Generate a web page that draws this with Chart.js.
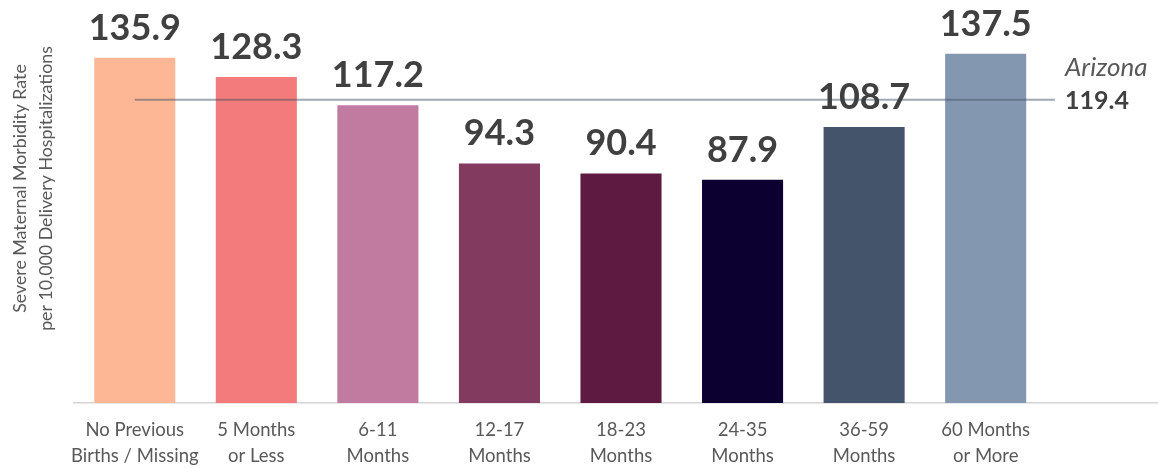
<!DOCTYPE html>
<html>
<head>
<meta charset="utf-8">
<script src="https://cdn.jsdelivr.net/npm/chart.js@4.4.0/dist/chart.umd.min.js"></script>
<style>
  html, body { margin: 0; padding: 0; background: #fff; overflow: hidden; }
  #wrap { width: 1168px; height: 468px; }
</style>
</head>
<body>
<div id="wrap"><canvas id="myChart"></canvas></div>
<script>
'use strict';
// categories (last slot left empty, like the original layout)
let categories = [
  ['No Previous', 'Births / Missing'],
  ['5 Months', 'or Less'],
  ['6-11', 'Months'],
  ['12-17', 'Months'],
  ['18-23', 'Months'],
  ['24-35', 'Months'],
  ['36-59', 'Months'],
  ['60 Months', 'or More'],
  ''
];
let rates = [135.9, 128.3, 117.2, 94.3, 90.4, 87.9, 108.7, 137.5, null];
let barColors = ['#FDB794', '#F47B7B', '#C27BA0', '#823A5F', '#5E1A40', '#0C0030', '#44546A', '#8497B0', '#ffffff'];
let arizonaRate = 119.4;
let arizonaSpan = [0, 7.57];
let yTitle = ['Severe Maternal Morbidity Rate', 'per 10,000 Delivery Hospitalizations'];

let fontFam = 'Lato, "Open Sans", sans-serif';

let labelsPlugin = {
  id: 'barLabels',
  afterDatasetsDraw(chart) {
    let ctx = chart.ctx;
    let meta = chart.getDatasetMeta(1);
    ctx.save();
    ctx.font = 'bold 36px ' + fontFam;
    ctx.fillStyle = '#404040';
    ctx.textAlign = 'center';
    ctx.textBaseline = 'alphabetic';
    meta.data.forEach(function (bar, i) {
      if (rates[i] === null) return;
      ctx.fillText(rates[i].toFixed(1), bar.x, bar.y - 18);
    });

    // Arizona reference label
    let x = chart.scales.x2.getPixelForValue(arizonaSpan[1]) + 10;
    let y = chart.scales.y.getPixelForValue(arizonaRate);
    ctx.textAlign = 'left';
    ctx.textBaseline = 'middle';
    ctx.fillStyle = '#595959';
    ctx.font = 'italic 26px ' + fontFam;
    ctx.fillText('Arizona', x, y - 32);
    ctx.fillStyle = '#404040';
    ctx.font = 'bold 25px ' + fontFam;
    ctx.fillText(arizonaRate.toFixed(1), x, y + 1);

    // y axis title, sitting a bit above the middle of the plot like the original
    let area = chart.chartArea;
    let cy = (area.top + area.bottom) / 2 - 24;
    ctx.translate(0, cy);
    ctx.rotate(-Math.PI / 2);
    ctx.textAlign = 'center';
    ctx.fillStyle = '#595959';
    ctx.font = '17.8px ' + fontFam;
    ctx.fillText(yTitle[0], 0, 20);
    ctx.fillText(yTitle[1], 0, 46);
    ctx.restore();
  }
};

var ctx = document.getElementById('myChart').getContext('2d');
var myChart = new Chart(ctx, {
  type: 'bar',
  data: {
    labels: categories,
    datasets: [{
      type: 'line',
      label: 'Arizona',
      xAxisID: 'x2',
      data: [{ x: arizonaSpan[0], y: arizonaRate }, { x: arizonaSpan[1], y: arizonaRate }],
      borderColor: 'rgba(68, 84, 106, 0.5)',
      borderWidth: 2,
      pointRadius: 0,
      order: 1
    }, {
      label: 'Rate',
      data: rates,
      backgroundColor: barColors,
      borderWidth: 0,
      grouped: false,
      categoryPercentage: 1,
      barPercentage: 0.667,
      order: 2
    }]
  },
  options: {
    responsive: true,
    maintainAspectRatio: false,
    animation: false,
    layout: { padding: { top: 22, right: 0, left: 0, bottom: 0 } },
    plugins: { legend: { display: false }, tooltip: { enabled: false } },
    scales: {
      x: {
        grid: { display: false, drawTicks: false },
        border: { display: true, color: '#d4d4d4', width: 1.5 },
        ticks: {
          color: '#595959',
          font: { family: fontFam, size: 18.5, lineHeight: 1.4 },
          padding: 14,
          maxRotation: 0,
          autoSkip: false
        },
        afterFit(scale) { scale.height = 65; }
      },
      x2: {
        type: 'linear',
        display: false,
        offset: false,
        min: -0.5,
        max: 8.5
      },
      y: {
        min: 0,
        max: 150,
        grid: { display: false, drawTicks: false },
        border: { display: false },
        ticks: { display: false },
        title: { display: false },
        afterFit(scale) { scale.width = 74; }
      }
    }
  },
  plugins: [labelsPlugin]
});
</script>
</body>
</html>
